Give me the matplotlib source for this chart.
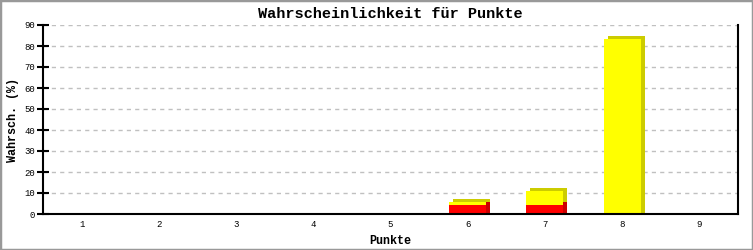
import matplotlib
matplotlib.use("Agg")
from matplotlib import pyplot as plt
from matplotlib import transforms
from matplotlib.patches import Rectangle

punkte = [1, 2, 3, 4, 5, 6, 7, 8, 9]
rot = [0, 0, 0, 0, 0, 4.3, 4.3, 0, 0]
gelb = [0, 0, 0, 0, 0, 1.6, 6.7, 83.3, 0]

FONT = 'Liberation Mono'

def main():
    fig = plt.figure(figsize=(7.53, 2.5), dpi=100)
    ax = fig.add_axes([43/753, 36/250, 695/753, 189/250])

    width = 0.48
    # shadows (3D depth): shifted right, and shifted right+up
    for dy in (0, 3):
        shade = transforms.offset_copy(ax.transData, fig=fig, x=4, y=dy, units='dots')
        ax.bar(punkte, rot, width=width, color='#cc0000', transform=shade, zorder=2)
        ax.bar(punkte, gelb, width=width, bottom=rot, color='#cccc00', transform=shade, zorder=2)
    # fronts
    ax.bar(punkte, rot, width=width, color='#ff0000', zorder=3)
    ax.bar(punkte, gelb, width=width, bottom=rot, color='#ffff00', zorder=3)

    ax.set_xlim(0.5, 9.5)
    ax.set_ylim(0, 90)
    ax.set_yticks(range(0, 91, 10))
    ax.set_xticks(punkte)
    ax.spines['top'].set_visible(False)
    for s in ['left', 'bottom', 'right']:
        ax.spines[s].set_linewidth(1.5)
        ax.spines[s].set_zorder(4)
    ax.tick_params(axis='y', direction='inout', length=9, width=1.5, labelsize=6.5, pad=1)
    ax.tick_params(axis='x', length=0, labelsize=6.5, pad=4)
    for lbl in ax.get_xticklabels() + ax.get_yticklabels():
        lbl.set_family(FONT)
    ax.yaxis.grid(True, color='#c0c0c0', linestyle=(0, (3, 3)), linewidth=1)
    ax.set_axisbelow(True)

    ax.set_title('Wahrscheinlichkeit für Punkte', family=FONT, fontweight='bold', fontsize=11, pad=5)
    ax.set_xlabel('Punkte', family=FONT, fontweight='bold', fontsize=8.5, labelpad=5)
    ax.set_ylabel('Wahrsch. (%)', family=FONT, fontweight='bold', fontsize=8.5, labelpad=4)

    fig.patches.append(Rectangle((0, 0), 1, 1, transform=fig.transFigure, fill=False,
                                 edgecolor='#999999', linewidth=2.5))
    plt.savefig("out.png", dpi=100)

if __name__ == "__main__":
    main()
